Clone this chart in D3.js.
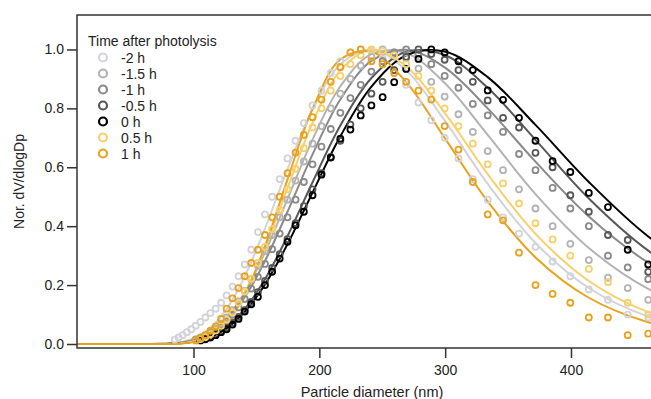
<!DOCTYPE html>
<html>
<head>
<meta charset="utf-8">
<script src="https://cdn.jsdelivr.net/npm/d3@7"></script>
<style>
  body { margin: 0; background: #fff; }
  svg { display: block; font-family: "Liberation Sans", Arial, sans-serif; }
</style>
</head>
<body>
<svg id="chart" width="651" height="399"></svg>
<script>
// legend labels, in drawing order
const seriesLabels = ["-2 h", "-1.5 h", "-1 h", "-0.5 h", "0 h", "0.5 h", "1 h"];
const seriesColors = ["#d2d3da", "#b3b3b3", "#8a8a8a", "#575757", "#000000", "#f6d06c", "#e9a21e"];

const xTicks = [100, 200, 300, 400];
const yTicks = [0.0, 0.2, 0.4, 0.6, 0.8, 1.0];

// SMPS bin mid diameters (nm), measured points
const binDiameters = [85.1, 88.2, 91.4, 94.7, 98.2, 101.8, 105.5, 109.4, 113.4, 117.6, 121.9, 126.3,
  131.0, 135.8, 140.7, 145.9, 151.2, 156.8, 162.5, 168.5, 174.7, 181.1, 187.7, 194.6, 201.7, 209.1,
  216.7, 224.7, 232.9, 241.4, 250.3, 259.5, 269.0, 278.8, 289.0, 299.6, 310.6, 322.0, 333.8, 346.0,
  358.7, 371.8, 385.4, 399.5, 414.2, 429.4, 445.1, 461.4];

// null = point hidden under the curves near zero
const pts_m2h = [0.015, 0.022, 0.03, 0.04, 0.05, 0.062, 0.075, 0.09, 0.105, 0.12, 0.14, 0.165,
  0.195, 0.23, 0.27, 0.32, 0.38, 0.44, 0.50, 0.56, 0.63, 0.69, 0.75, 0.81, 0.86, 0.92,
  0.96, 0.99, 1.0, 0.995, 0.97, 0.93, 0.88, 0.82, 0.76, 0.70, 0.63, 0.56, 0.49, 0.43,
  0.375, 0.33, 0.28, 0.23, 0.185, 0.15, 0.10, 0.09];
const pts_m15h = [null, null, null, null, null, 0.016, 0.022, 0.03, 0.04, 0.053, 0.07, 0.09,
  0.115, 0.145, 0.18, 0.22, 0.265, 0.315, 0.37, 0.43, 0.49, 0.555, 0.62, 0.68, 0.74, 0.80,
  0.85, 0.90, 0.945, 0.975, 1.0, 0.99, 0.97, 0.935, 0.89, 0.84, 0.78, 0.72, 0.655, 0.59,
  0.525, 0.46, 0.40, 0.34, 0.285, 0.225, 0.19, 0.15];
const pts_m1h = [null, null, null, null, null, 0.015, 0.02, 0.027, 0.036, 0.047, 0.06, 0.078,
  0.099, 0.124, 0.153, 0.188, 0.228, 0.272, 0.322, 0.375, 0.43, 0.49, 0.55, 0.61, 0.67, 0.73,
  0.785, 0.835, 0.88, 0.925, 0.96, 0.99, 1.0, 0.985, 0.95, 0.91, 0.87, 0.815, 0.776, 0.72,
  0.645, 0.59, 0.53, 0.46, 0.40, 0.30, 0.26, 0.22];
const pts_m05h = [null, null, null, null, null, null, 0.013, 0.018, 0.025, 0.033, 0.044, 0.056,
  0.072, 0.092, 0.115, 0.143, 0.176, 0.214, 0.258, 0.305, 0.356, 0.41, 0.468, 0.525, 0.58, 0.635,
  0.69, 0.745, 0.80, 0.85, 0.89, 0.93, 0.975, 1.0, 0.985, 0.965, 0.93, 0.89, 0.827, 0.768,
  0.735, 0.649, 0.60, 0.505, 0.449, 0.37, 0.353, 0.245];
const pts_0h = [null, null, null, null, null, null, 0.012, 0.016, 0.022, 0.03, 0.04, 0.05,
  0.066, 0.085, 0.11, 0.135, 0.16, 0.20, 0.245, 0.29, 0.347, 0.403, 0.449, 0.505, 0.575, 0.633,
  0.697, 0.728, 0.776, 0.81, 0.838, 0.889, 0.934, 0.968, 1.0, 0.99, 0.96, 0.93, 0.861, 0.829,
  0.768, 0.69, 0.621, 0.584, 0.513, 0.465, 0.32, 0.27];
const pts_05h = [null, null, null, null, null, 0.012, 0.017, 0.024, 0.033, 0.046, 0.062, 0.082,
  0.107, 0.14, 0.178, 0.222, 0.275, 0.33, 0.39, 0.455, 0.525, 0.595, 0.665, 0.735, 0.80, 0.86,
  0.91, 0.95, 0.98, 1.0, 0.995, 0.98, 0.95, 0.91, 0.86, 0.80, 0.74, 0.68, 0.61, 0.545,
  0.477, 0.41, 0.355, 0.30, 0.255, 0.21, 0.14, 0.10];
const pts_1h = [null, null, null, null, null, 0.012, 0.02, 0.03, 0.045, 0.06, 0.085, 0.12,
  0.155, 0.19, 0.23, 0.275, 0.32, 0.37, 0.43, 0.50, 0.58, 0.65, 0.71, 0.77, 0.83, 0.89,
  0.94, 0.99, 1.0, 0.96, 0.95, 0.92, 0.89, 0.86, 0.83, 0.74, 0.66, 0.55, 0.44, 0.42,
  0.31, 0.20, 0.17, 0.14, 0.09, 0.09, 0.03, 0.035];

// lognormal fit curves, read at a coarser diameter grid
const fitDiameters = [8, 66.1, 73.7, 82.0, 91.4, 101.8, 113.4, 126.3, 140.7, 156.8, 174.7,
  194.6, 216.7, 241.4, 269.0, 299.6, 333.8, 371.8, 414.2, 461.4, 514.0];

const fit_m2h = [0, 0.0002, 0.0007, 0.0025, 0.008, 0.022, 0.054, 0.119, 0.229, 0.392, 0.594,
  0.797, 0.949, 1.000, 0.929, 0.759, 0.544, 0.343, 0.190, 0.093, 0.040];
const fit_m15h = [0, 0.0001, 0.0005, 0.0018, 0.0057, 0.016, 0.040, 0.089, 0.176, 0.311, 0.492,
  0.694, 0.875, 0.984, 0.988, 0.886, 0.710, 0.509, 0.326, 0.187, 0.096];
const fit_m1h = [0, 0.0001, 0.0005, 0.0018, 0.0055, 0.015, 0.036, 0.080, 0.159, 0.282, 0.449,
  0.644, 0.830, 0.961, 0.999, 0.939, 0.800, 0.619, 0.433, 0.276, 0.159];
const fit_m05h = [0, 0.0001, 0.0003, 0.0012, 0.0036, 0.010, 0.026, 0.058, 0.119, 0.220, 0.366,
  0.549, 0.742, 0.903, 0.992, 0.981, 0.870, 0.693, 0.494, 0.317, 0.182];
const fit_0h = [0, 0.0001, 0.0003, 0.0011, 0.0034, 0.009, 0.023, 0.053, 0.109, 0.202, 0.339,
  0.514, 0.705, 0.874, 0.980, 0.993, 0.906, 0.744, 0.550, 0.365, 0.218];
const fit_05h = [0, 0, 0.0002, 0.0009, 0.0035, 0.011, 0.033, 0.080, 0.173, 0.324, 0.529,
  0.751, 0.929, 1.000, 0.943, 0.785, 0.577, 0.374, 0.214, 0.108, 0.048];
const fit_1h = [0, 0, 0.0001, 0.0004, 0.002, 0.008, 0.026, 0.071, 0.167, 0.332, 0.559,
  0.798, 0.966, 0.992, 0.889, 0.700, 0.484, 0.294, 0.157, 0.074, 0.030];

const pointSets = [pts_m2h, pts_m15h, pts_m1h, pts_m05h, pts_0h, pts_05h, pts_1h];
const fitSets = [fit_m2h, fit_m15h, fit_m1h, fit_m05h, fit_0h, fit_05h, fit_1h];

const svg = d3.select("#chart");
const plotLeft = 77, plotRight = 651, plotTop = 15, plotBottom = 348;
const textColor = "#222";
const axisColor = "#333";

const x = d3.scaleLinear().domain([7.4, 463.6]).range([plotLeft, plotRight]);
const y = d3.scaleLinear().domain([-0.0136, 1.117]).range([plotBottom, plotTop]);

svg.append("clipPath").attr("id", "plot-clip")
  .append("rect")
  .attr("x", plotLeft).attr("y", plotTop)
  .attr("width", plotRight - plotLeft).attr("height", plotBottom - plotTop);

// fitted curves
const line = d3.line()
  .x(d => x(d[0]))
  .y(d => y(d[1]))
  .curve(d3.curveCatmullRom.alpha(0.5));

const lineLayer = svg.append("g").attr("clip-path", "url(#plot-clip)");
fitSets.forEach((vals, i) => {
  lineLayer.append("path")
    .datum(fitDiameters.map((d, j) => [d, vals[j]]))
    .attr("fill", "none")
    .attr("stroke", seriesColors[i])
    .attr("stroke-width", 2)
    .attr("d", line);
});

// measured points
const pointLayer = svg.append("g");
pointSets.forEach((vals, i) => {
  pointLayer.append("g")
    .selectAll("circle")
    .data(binDiameters.map((d, j) => [d, vals[j]]).filter(d => d[1] != null))
    .join("circle")
    .attr("cx", d => x(d[0]))
    .attr("cy", d => y(d[1]))
    .attr("r", 3)
    .attr("fill", "none")
    .attr("stroke", seriesColors[i])
    .attr("stroke-width", 1.8);
});

// axes
const xAxis = svg.append("g")
  .attr("transform", `translate(0,${plotBottom})`)
  .call(d3.axisBottom(x).tickValues(xTicks).tickSize(10).tickPadding(7).tickFormat(d3.format("d")));
const yAxis = svg.append("g")
  .attr("transform", `translate(${plotLeft},0)`)
  .call(d3.axisLeft(y).tickValues(yTicks).tickSize(10).tickPadding(3).tickFormat(d3.format(".1f")));

[xAxis, yAxis].forEach(g => {
  g.select(".domain").remove();
  g.selectAll(".tick line").attr("stroke", axisColor).attr("stroke-width", 1.5);
  g.selectAll(".tick text").attr("fill", textColor).attr("font-size", 14)
    .attr("font-family", "Liberation Sans, Arial, sans-serif");
});

// frame: left, bottom and top lines (right side is cut off)
svg.append("path")
  .attr("d", `M${plotRight},${plotTop}H${plotLeft}V${plotBottom}H${plotRight}`)
  .attr("fill", "none")
  .attr("stroke", axisColor)
  .attr("stroke-width", 1.5);

// axis titles
svg.append("text")
  .attr("x", 372).attr("y", 397)
  .attr("text-anchor", "middle")
  .attr("font-size", 14.5)
  .attr("fill", textColor)
  .text("Particle diameter (nm)");

svg.append("text")
  .attr("transform", `translate(24,${(plotTop + plotBottom) / 2}) rotate(-90)`)
  .attr("text-anchor", "middle")
  .attr("font-size", 14)
  .attr("fill", textColor)
  .text("Nor. dV/dlogDp");

// legend
const legend = svg.append("g").attr("transform", "translate(88,46)");
legend.append("text")
  .attr("x", 0).attr("y", 0)
  .attr("font-size", 14)
  .attr("fill", textColor)
  .text("Time after photolysis");

seriesLabels.forEach((label, i) => {
  const row = legend.append("g").attr("transform", `translate(0,${11.5 + i * 16})`);
  row.append("circle")
    .attr("cx", 15).attr("cy", 0).attr("r", 4)
    .attr("fill", "none")
    .attr("stroke", seriesColors[i])
    .attr("stroke-width", 2.2);
  row.append("text")
    .attr("x", 33).attr("y", 5)
    .attr("font-size", 14)
    .attr("fill", textColor)
    .text(label);
});
</script>
</body>
</html>
